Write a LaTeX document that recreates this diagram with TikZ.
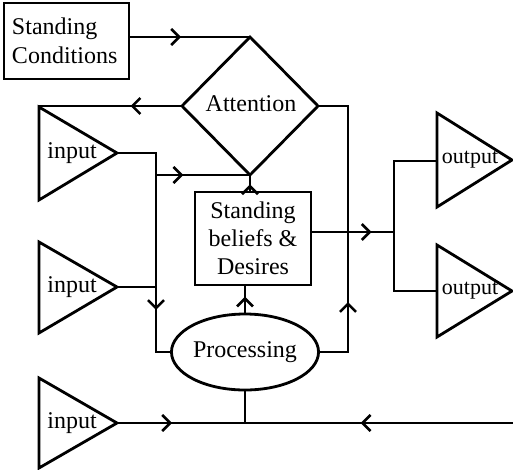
\documentclass[tikz,border=0pt]{standalone}
\usepackage{fontspec}
\setmainfont{Liberation Serif}
\usetikzlibrary{arrows.meta,decorations.markings,shapes.geometric}
\tikzset{
  ln/.style={line width=2.8pt, line join=miter},
  marr/.style={postaction={decorate,decoration={markings,mark=at position #1 with {\arrow[line width=2.6pt]{Straight Barb[length=8pt,width=16pt]}}}}},
  lbl/.style={font=\fontsize{24}{28}\selectfont, inner sep=0pt},
  olbl/.style={font=\fontsize{22}{26}\selectfont, inner sep=0pt},
  boxst/.style={draw, line width=2.8pt, outer sep=0pt, font=\fontsize{24}{29}\selectfont},
}
\begin{document}
\begin{tikzpicture}[x=1pt,y=-1pt]
\useasboundingbox (0,0) rectangle (513,469);
% nodes
\node[boxst, minimum width=125pt, minimum height=76pt, text width=109pt, inner xsep=8pt, align=left] (sc) at (66.5,41) {Standing\\Conditions};
\node[draw, diamond, line width=2.8pt, outer sep=0pt, minimum width=136pt, minimum height=138pt, inner sep=0pt] (att) at (250,106) {};
\node[lbl] (attl) at (251,104) {Attention};
\node[boxst, minimum width=116pt, minimum height=93pt, inner sep=0pt, align=center, font=\fontsize{24}{28}\selectfont] (sb) at (253,238.5) {Standing\\beliefs \&\\Desires};
\node[draw, ellipse, line width=2.8pt, outer sep=0pt, minimum width=134pt, minimum height=76pt, inner sep=0pt, font=\fontsize{24}{28}\selectfont] (proc) at (245,352) {Processing};
% input triangles
\draw[ln] (39,107) coordinate (in1t) -- (39,200) -- (117,153) coordinate (in1) -- cycle;
\node[lbl] (in1l) at (72,153) {input};
\draw[ln] (39,242) -- (39,333) -- (117,287) coordinate (in2) -- cycle;
\node[lbl] (in2l) at (72,287) {input};
\draw[ln] (39,378) -- (39,468) -- (117,423) coordinate (in3) -- cycle;
\node[lbl] (in3l) at (72,423) {input};
% output triangles
\draw[ln] (437,113) -- (437,207) -- (512,160) -- cycle;
\coordinate (out1) at (437,161);
\node[olbl] (out1l) at (470,160) {output};
\draw[ln] (437,245) -- (437,337) -- (512,291) -- cycle;
\coordinate (out2) at (437,291);
\node[olbl] (out2l) at (470,291) {output};
% helper coordinates
\coordinate (j1) at (156,153);
\coordinate (j1b) at (156,175);
\coordinate (j2) at (156,287);
\coordinate (j3) at (156,352);
\coordinate (r1) at (348,106);
\coordinate (s1) at (394,161);
\coordinate (s2) at (394,232);
\coordinate (s3) at (394,291);
\coordinate (b1) at (245,423);
\coordinate (bR) at (514,423);
% connectors
\draw[ln, marr=0.43] (sc.east |- att.north) -- (att.north);
\draw[ln, marr=0.36] (att.west) -- (att.west -| in1t);
\draw[ln, marr=0.773] (in1) -- (j1) -- (j3) -- (proc.west);
\draw[ln, marr=0.29] (j1b) -- (att.south);
\draw[ln] (in2) -- (j2);
\draw[ln, marr=0.45] (att.south |- sb.north) -- (att.south);
\draw[ln, marr=0.6] (proc.north) -- (proc.north |- sb.south);
\draw[ln, marr=0.26] (proc.east) -| (r1) -- (att.east);
\draw[ln, marr=0.73] (sb.east |- s2) -- (s2);
\draw[ln] (out1) -- (s1) -- (s3) -- (out2);
\draw[ln, marr=0.43] (in3) -- (b1);
\draw[ln, marr=0.57] (bR) -- (b1);
\draw[ln] (b1) -- (proc.south);
\end{tikzpicture}
\end{document}
